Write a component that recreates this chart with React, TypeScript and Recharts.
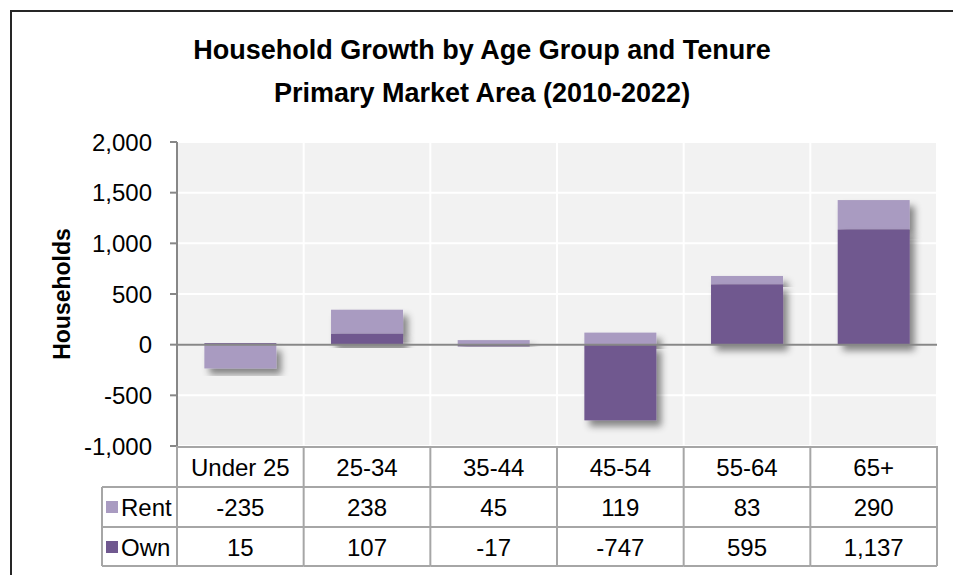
import React from 'react';
import { BarChart, Bar, XAxis, YAxis, CartesianGrid, ReferenceLine } from 'recharts';

const ageGroups = ['Under 25', '25-34', '35-44', '45-54', '55-64', '65+'];
const rentValues = [-235, 238, 45, 119, 83, 290];
const ownValues = [15, 107, -17, -747, 595, 1137];
const yTicks = [-1000, -500, 0, 500, 1000, 1500, 2000];
const titleLines = ['Household Growth by Age Group and Tenure', 'Primary Market Area (2010-2022)'];

const FONT = '"Liberation Sans", Arial, sans-serif';
const RENT_COLOR = '#a99bc1';
const OWN_COLOR = '#70588f';
const AXIS_GRAY = '#878787';
const TABLE_GRAY = '#a6a6a6';
const ROW_H = 40;

const data = ageGroups.map((group, i) => ({
	group,
	rent: rentValues[i],
	own: ownValues[i],
}));

const fmt = (v: number) => v.toLocaleString('en-US');

const shadowShape = (fill: string) => (p: any) => {
	const top = Math.min(p.y, p.y + p.height);
	const h = Math.abs(p.height);
	if (!h) return <g />;
	return <rect x={p.x} y={top} width={p.width} height={h} fill={fill} filter="url(#barShadow)" />;
};

// x axis ticks draw the data table underneath the plot
const TableTick = (props: any) => {
	const { x, y, payload, width } = props;
	const i = ageGroups.indexOf(payload.value);
	const half = typeof payload.offset === 'number' && payload.offset > 0 ? payload.offset : width / (ageGroups.length * 2);
	const left = x - half;
	const right = x + half;
	const rows = [y + 1, y + 1 + ROW_H, y + 1 + ROW_H * 2, y + ROW_H * 3];
	const textStyle = { fontFamily: FONT, fontSize: 24, fill: '#000' };
	const legendLeft = left - 75;
	return (
		<g>
			{rows.map((r, k) => (
				<line key={k} x1={left} x2={right} y1={r} y2={r} stroke={TABLE_GRAY} strokeWidth={2} />
			))}
			<line x1={right} x2={right} y1={y} y2={rows[3]} stroke={TABLE_GRAY} strokeWidth={2} />
			{i === 0 && (
				<g>
					<line x1={left} x2={left} y1={y} y2={rows[3]} stroke={TABLE_GRAY} strokeWidth={2} />
					{rows.slice(1).map((r, k) => (
						<line key={k} x1={legendLeft} x2={left} y1={r} y2={r} stroke={TABLE_GRAY} strokeWidth={2} />
					))}
					<line x1={legendLeft} x2={legendLeft} y1={rows[1]} y2={rows[3]} stroke={TABLE_GRAY} strokeWidth={2} />
					<rect x={legendLeft + 4} y={rows[1] + ROW_H / 2 - 6} width={12} height={12} fill={RENT_COLOR} />
					<text x={legendLeft + 19} y={rows[1] + ROW_H / 2} dominantBaseline="central" style={textStyle}>Rent</text>
					<rect x={legendLeft + 4} y={rows[2] + ROW_H / 2 - 6} width={12} height={12} fill={OWN_COLOR} />
					<text x={legendLeft + 19} y={rows[2] + ROW_H / 2} dominantBaseline="central" style={textStyle}>Own</text>
				</g>
			)}
			<text x={x} y={rows[0] + ROW_H / 2} textAnchor="middle" dominantBaseline="central" style={textStyle}>
				{payload.value}
			</text>
			<text x={x} y={rows[1] + ROW_H / 2} textAnchor="middle" dominantBaseline="central" style={textStyle}>
				{fmt(rentValues[i])}
			</text>
			<text x={x} y={rows[2] + ROW_H / 2} textAnchor="middle" dominantBaseline="central" style={textStyle}>
				{fmt(ownValues[i])}
			</text>
		</g>
	);
};

export default function App() {
	return (
		<div style={{ position: 'absolute', left: 0, top: 0, width: 953, height: 575, overflow: 'hidden', background: '#fff' }}>
			<div
				style={{
					position: 'absolute',
					left: 10,
					top: 10,
					width: 1000,
					height: 1000,
					borderLeft: '2px solid #262626',
					borderTop: '2px solid #262626',
				}}
			/>
			{titleLines.map((t, k) => (
				<div
					key={k}
					style={{
						position: 'absolute',
						left: 0,
						width: 964,
						top: 33 + k * 43,
						textAlign: 'center',
						fontFamily: FONT,
						fontWeight: 'bold',
						fontSize: 27,
						lineHeight: '34px',
						color: '#000',
					}}
				>
					{t}
				</div>
			))}
			<div style={{ position: 'absolute', left: 0, top: 0 }}>
				<BarChart
					width={953}
					height={575}
					data={data}
					stackOffset="sign"
					reverseStackOrder
					barCategoryGap="21.6%"
					margin={{ top: 142, right: 16, bottom: 0, left: 117 }}
				>
					<defs>
						<filter id="barShadow" x="-20%" y="-20%" width="150%" height="150%">
							<feDropShadow dx={5} dy={6} stdDeviation={3.5} floodColor="#000" floodOpacity={0.45} />
						</filter>
					</defs>
					<CartesianGrid
						fill="#f2f2f2"
						stroke="#fff"
						strokeWidth={2}
						horizontal={{ stroke: '#ffffff', strokeWidth: 2 }}
						verticalCoordinatesGenerator={({ offset }: any) =>
							ageGroups.map((_, i) => offset.left + ((i + 1) * offset.width) / ageGroups.length)
						}
						vertical={{ stroke: '#c4c4c4', strokeWidth: 2 }}
					/>
					<XAxis
						dataKey="group"
						height={129}
						axisLine={false}
						tickLine={false}
						tickSize={0}
						tickMargin={0}
						interval={0}
						tick={<TableTick />}
					/>
					<YAxis
						width={60}
						domain={[-1000, 2000]}
						ticks={yTicks}
						interval={0}
						allowDataOverflow
						tickFormatter={fmt}
						axisLine={{ stroke: AXIS_GRAY, strokeWidth: 2 }}
						tickLine={{ stroke: AXIS_GRAY, strokeWidth: 2 }}
						tickSize={7}
						tickMargin={18}
						tick={{ fontFamily: FONT, fontSize: 24, fill: '#000' }}
						label={{
							content: (p: any) => {
								const vb = p.viewBox;
								const cy = vb.y + vb.height / 2;
								return (
									<text
										x={62}
										y={cy}
										transform={`rotate(-90 62 ${cy})`}
										textAnchor="middle"
										dominantBaseline="central"
										style={{ fontFamily: FONT, fontSize: 23, fontWeight: 'bold', fill: '#000' }}
									>
										Households
									</text>
								);
							},
						}}
					/>
					{/* rent listed first so own's shadow sits above it; reverseStackOrder keeps own at the base */}
					<Bar dataKey="rent" name="Rent" stackId="a" fill={RENT_COLOR} isAnimationActive={false} shape={shadowShape(RENT_COLOR)} />
					<Bar dataKey="own" name="Own" stackId="a" fill={OWN_COLOR} isAnimationActive={false} shape={shadowShape(OWN_COLOR)} />
					<ReferenceLine y={0} stroke={AXIS_GRAY} strokeWidth={2} />
				</BarChart>
			</div>
		</div>
	);
}
